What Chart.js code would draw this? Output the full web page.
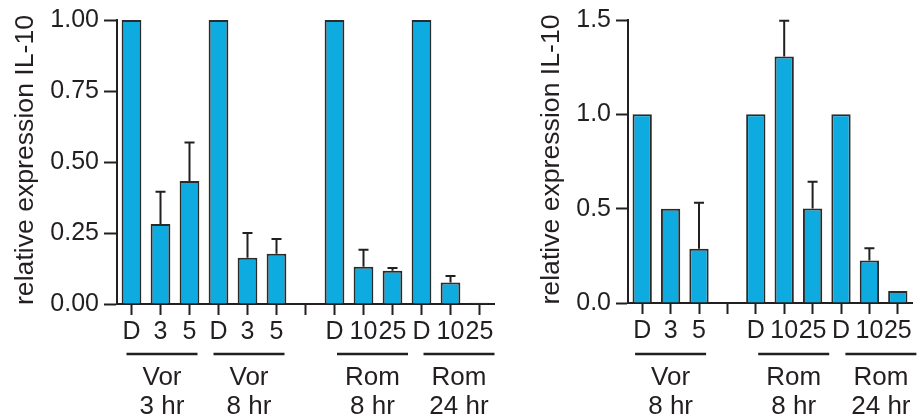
<!DOCTYPE html>
<html>
<head>
<meta charset="utf-8">
<script src="https://cdn.jsdelivr.net/npm/chart.js@4.4.1/dist/chart.umd.min.js"></script>
<style>
    html, body { margin: 0; padding: 0; background: #fff; }
    #wrap { position: relative; width: 917px; height: 417px; overflow: hidden; }
    #wrap canvas { position: absolute; top: 0; }
</style>
</head>
<body>
<div id="wrap">
    <canvas id="leftChart" width="500" height="417" style="left:0"></canvas>
    <canvas id="rightChart" width="459" height="417" style="left:458px"></canvas>
</div>
<script>
/* Left panel data */
const leftLabels = ['D', '3', '5', 'D', '3', '5', '', 'D', '10', '25', 'D', '10', '25'];
const leftValues = [1.00, 0.282, 0.433, 1.00, 0.163, 0.177, null, 1.00, 0.131, 0.117, 1.00, 0.076, 0.004];
const leftErrors = [0, 0.113, 0.136, 0, 0.087, 0.052, 0, 0, 0.060, 0.010, 0, 0.023, 0];
const leftTicks = [0, 0.25, 0.5, 0.75, 1.0];
const leftGroupNames = ['Vor', 'Vor', 'Rom', 'Rom'];
const leftGroupTimes = ['3 hr', '8 hr', '8 hr', '24 hr'];
const leftGroupFirst = [0, 3, 7, 10];
const leftGroupLast = [2, 5, 9, 12];

/* Right panel data */
const rightLabels = ['D', '3', '5', '', 'D', '10', '25', 'D', '10', '25'];
const rightValues = [1.00, 0.50, 0.287, null, 1.00, 1.306, 0.501, 1.00, 0.225, 0.063];
const rightErrors = [0, 0, 0.244, 0, 0, 0.190, 0.142, 0, 0.065, 0];
const rightTicks = [0, 0.5, 1.0, 1.5];
const rightGroupNames = ['Vor', 'Rom', 'Rom'];
const rightGroupTimes = ['8 hr', '8 hr', '24 hr'];
const rightGroupFirst = [0, 4, 7];
const rightGroupLast = [2, 6, 9];

const yTitle = 'relative expression IL-10';

const INK = '#231f20';
const FONT = '"Liberation Sans", Arial, Helvetica, sans-serif';

// barres d'erreur (vers le haut seulement)
const errorBarsPlugin = {
    id: 'errorBars',
    afterDatasetsDraw(chart, args, opts) {
        let ctx = chart.ctx;
        let yScale = chart.scales.y;
        let meta = chart.getDatasetMeta(0);
        let values = chart.data.datasets[0].data;
        ctx.save();
        ctx.strokeStyle = INK;
        ctx.lineWidth = 2;
        meta.data.forEach((bar, i) => {
            let err = opts.errors[i];
            if (!err || values[i] == null) return;
            let yTop = yScale.getPixelForValue(values[i] + err);
            ctx.beginPath();
            ctx.moveTo(bar.x, bar.y);
            ctx.lineTo(bar.x, yTop);
            ctx.moveTo(bar.x - 5, yTop);
            ctx.lineTo(bar.x + 5, yTop);
            ctx.stroke();
        });
        ctx.restore();
    }
};

// étiquettes de groupe sous l'axe x + titre de l'axe y
const groupLabelsPlugin = {
    id: 'groupLabels',
    afterDraw(chart, args, opts) {
        let ctx = chart.ctx;
        let xScale = chart.scales.x;
        let yScale = chart.scales.y;
        ctx.save();
        ctx.fillStyle = INK;
        ctx.strokeStyle = INK;
        ctx.lineWidth = 2.5;
        ctx.font = '26px ' + FONT;
        ctx.textAlign = 'center';
        ctx.textBaseline = 'alphabetic';
        opts.names.forEach((name, g) => {
            let x1 = xScale.getPixelForValue(opts.first[g]);
            let x2 = xScale.getPixelForValue(opts.last[g]);
            let cx = (x1 + x2) / 2 + opts.shift[g];
            ctx.beginPath();
            ctx.moveTo(cx - 35.5, 354);
            ctx.lineTo(cx + 35.5, 354);
            ctx.stroke();
            ctx.fillText(name, cx, 385);
            ctx.fillText(opts.times[g], cx, 414);
        });

        // titre vertical, légèrement étiré dans le sens du texte
        ctx.font = '25px ' + FONT;
        let w = ctx.measureText(opts.title).width;
        let cy = (yScale.top + yScale.bottom) / 2 - 2;
        ctx.translate(opts.titleX, cy);
        ctx.rotate(-Math.PI / 2);
        ctx.scale(opts.titleLength / w, 1);
        ctx.fillText(opts.title, 0, 0);
        ctx.restore();
    }
};

function makeChart(id, cfg) {
    return new Chart(document.getElementById(id), {
        type: 'bar',
        data: {
            labels: cfg.labels,
            datasets: [{
                data: cfg.values,
                backgroundColor: '#0eabe0',
                borderColor: '#2b2b2b',
                borderWidth: 2,
                barPercentage: 0.68,
                categoryPercentage: 1.0
            }]
        },
        options: {
            responsive: false,
            animation: false,
            layout: { padding: cfg.padding },
            plugins: {
                legend: { display: false },
                tooltip: { enabled: false },
                errorBars: { errors: cfg.errors },
                groupLabels: {
                    names: cfg.names, times: cfg.times,
                    first: cfg.first, last: cfg.last, shift: cfg.shift,
                    title: yTitle, titleX: cfg.titleX, titleLength: 290
                }
            },
            scales: {
                x: {
                    offset: true,
                    grid: {
                        offset: false, drawOnChartArea: false, drawTicks: true,
                        tickLength: 11, tickWidth: 2, tickColor: INK
                    },
                    border: { display: true, color: INK, width: 2 },
                    ticks: {
                        color: INK, padding: 2, maxRotation: 0, autoSkip: false,
                        font: { family: FONT, size: 25 }
                    },
                    afterFit: scale => { scale.height = cfg.xHeight; }
                },
                y: {
                    min: 0,
                    max: cfg.max,
                    afterBuildTicks: scale => { scale.ticks = cfg.ticks.map(v => ({ value: v })); },
                    grid: {
                        drawOnChartArea: false, drawTicks: true,
                        tickLength: cfg.tickLen, tickWidth: 2, tickColor: INK
                    },
                    border: { display: true, color: INK, width: 2 },
                    ticks: {
                        color: INK, padding: 5,
                        font: { family: FONT, size: 25 },
                        callback: v => Number(v).toFixed(cfg.decimals)
                    },
                    afterFit: scale => { scale.width = cfg.yWidth; }
                }
            }
        },
        plugins: [errorBarsPlugin, groupLabelsPlugin]
    });
}

makeChart('leftChart', {
    labels: leftLabels, values: leftValues, errors: leftErrors, ticks: leftTicks,
    max: 1.0, decimals: 2, tickLen: 13, titleX: 33,
    names: leftGroupNames, times: leftGroupTimes, first: leftGroupFirst, last: leftGroupLast,
    shift: [1.5, 1.5, 9, 8.5],
    padding: { top: 20, right: 6, left: 0, bottom: 0 },
    yWidth: 117, xHeight: 113
});

makeChart('rightChart', {
    labels: rightLabels, values: rightValues, errors: rightErrors, ticks: rightTicks,
    max: 1.5, decimals: 1, tickLen: 12, titleX: 101,
    names: rightGroupNames, times: rightGroupTimes, first: rightGroupFirst, last: rightGroupLast,
    shift: [0, 9.5, 11.5],
    padding: { top: 18, right: 5, left: 0, bottom: 0 },
    yWidth: 170, xHeight: 114
});
</script>
</body>
</html>
